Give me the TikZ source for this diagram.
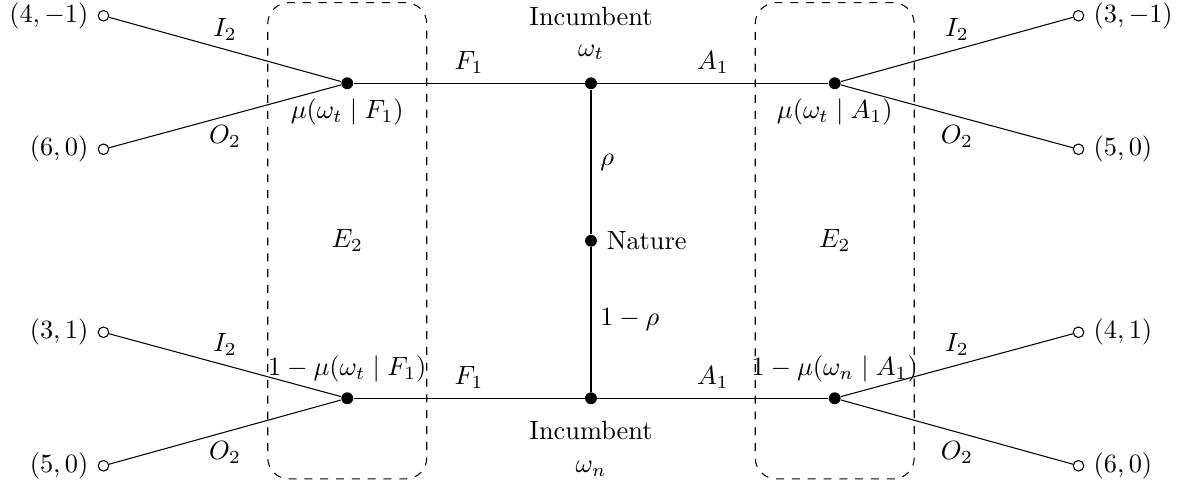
\documentclass[tikz,border=0pt]{standalone}
\usepackage{tikz}
\usetikzlibrary{positioning}

\begin{document}
\begin{tikzpicture}[
  dot/.style={circle, fill, inner sep=0pt, minimum size=4.5pt},
  leaf/.style={circle, draw, fill=white, inner sep=0pt, minimum size=4pt},
  infoset/.style={draw, dashed, rounded corners=8pt,
    minimum width=21.2mm, minimum height=63.5mm}
]
\useasboundingbox (-7.88,-3.27) rectangle (7.96,3.21);

% information sets of the entrant
\node[infoset] (setF) at (-3.25,0) {$E_2$};
\node[infoset] (setA) at (3.25,0) {$E_2$};

% nature and incumbent
\node[dot, label=right:Nature] (nat) at (0,0) {};
\node[dot] (inct) at (0,2.1) {};
\node[dot] (incn) at (0,-2.1) {};
\node[above=1mm of inct] (wt) {$\omega_t$};
\node[above=0pt of wt] (inctlbl) {Incumbent};
\node[below=1mm of incn] (incnlbl) {Incumbent};
\node[below=1pt of incnlbl] (wn) {$\omega_n$};

% entrant nodes
\node[dot, label=below:{$\mu(\omega_t \mid F_1)$}] (entTF) at (-3.25,2.1) {};
\node[dot, label=below:{$\mu(\omega_t \mid A_1)$}] (entTA) at (3.25,2.1) {};
\node[dot, label=above:{$1-\mu(\omega_t \mid F_1)$}] (entNF) at (-3.25,-2.1) {};
\node[dot, label=above:{$1-\mu(\omega_n \mid A_1)$}] (entNA) at (3.25,-2.1) {};

% payoffs
\node[leaf, label=left:{$(4,-1)$}] (tFI) at (-6.5,3) {};
\node[leaf, label=left:{$(6,0)$}] (tFO) at (-6.5,1.22) {};
\node[leaf, label=left:{$(3,1)$}] (nFI) at (-6.5,-1.22) {};
\node[leaf, label=left:{$(5,0)$}] (nFO) at (-6.5,-3) {};
\node[leaf, label=right:{$(3,-1)$}] (tAI) at (6.5,3) {};
\node[leaf, label=right:{$(5,0)$}] (tAO) at (6.5,1.22) {};
\node[leaf, label=right:{$(4,1)$}] (nAI) at (6.5,-1.22) {};
\node[leaf, label=right:{$(6,0)$}] (nAO) at (6.5,-3) {};

\draw (inct) -- node[right] {$\rho$} (nat);
\draw (nat) -- node[right] {$1-\rho$} (incn);
\draw (entTF) -- node[above] {$F_1$} (inct);
\draw (inct) -- node[above] {$A_1$} (entTA);
\draw (entNF) -- node[above] {$F_1$} (incn);
\draw (incn) -- node[above] {$A_1$} (entNA);

\draw (tFI) -- node[above] {$I_2$} (entTF);
\draw (tFO) -- node[below] {$O_2$} (entTF);
\draw (nFI) -- node[above] {$I_2$} (entNF);
\draw (nFO) -- node[below] {$O_2$} (entNF);
\draw (entTA) -- node[above] {$I_2$} (tAI);
\draw (entTA) -- node[below] {$O_2$} (tAO);
\draw (entNA) -- node[above] {$I_2$} (nAI);
\draw (entNA) -- node[below] {$O_2$} (nAO);

\end{tikzpicture}
\end{document}
